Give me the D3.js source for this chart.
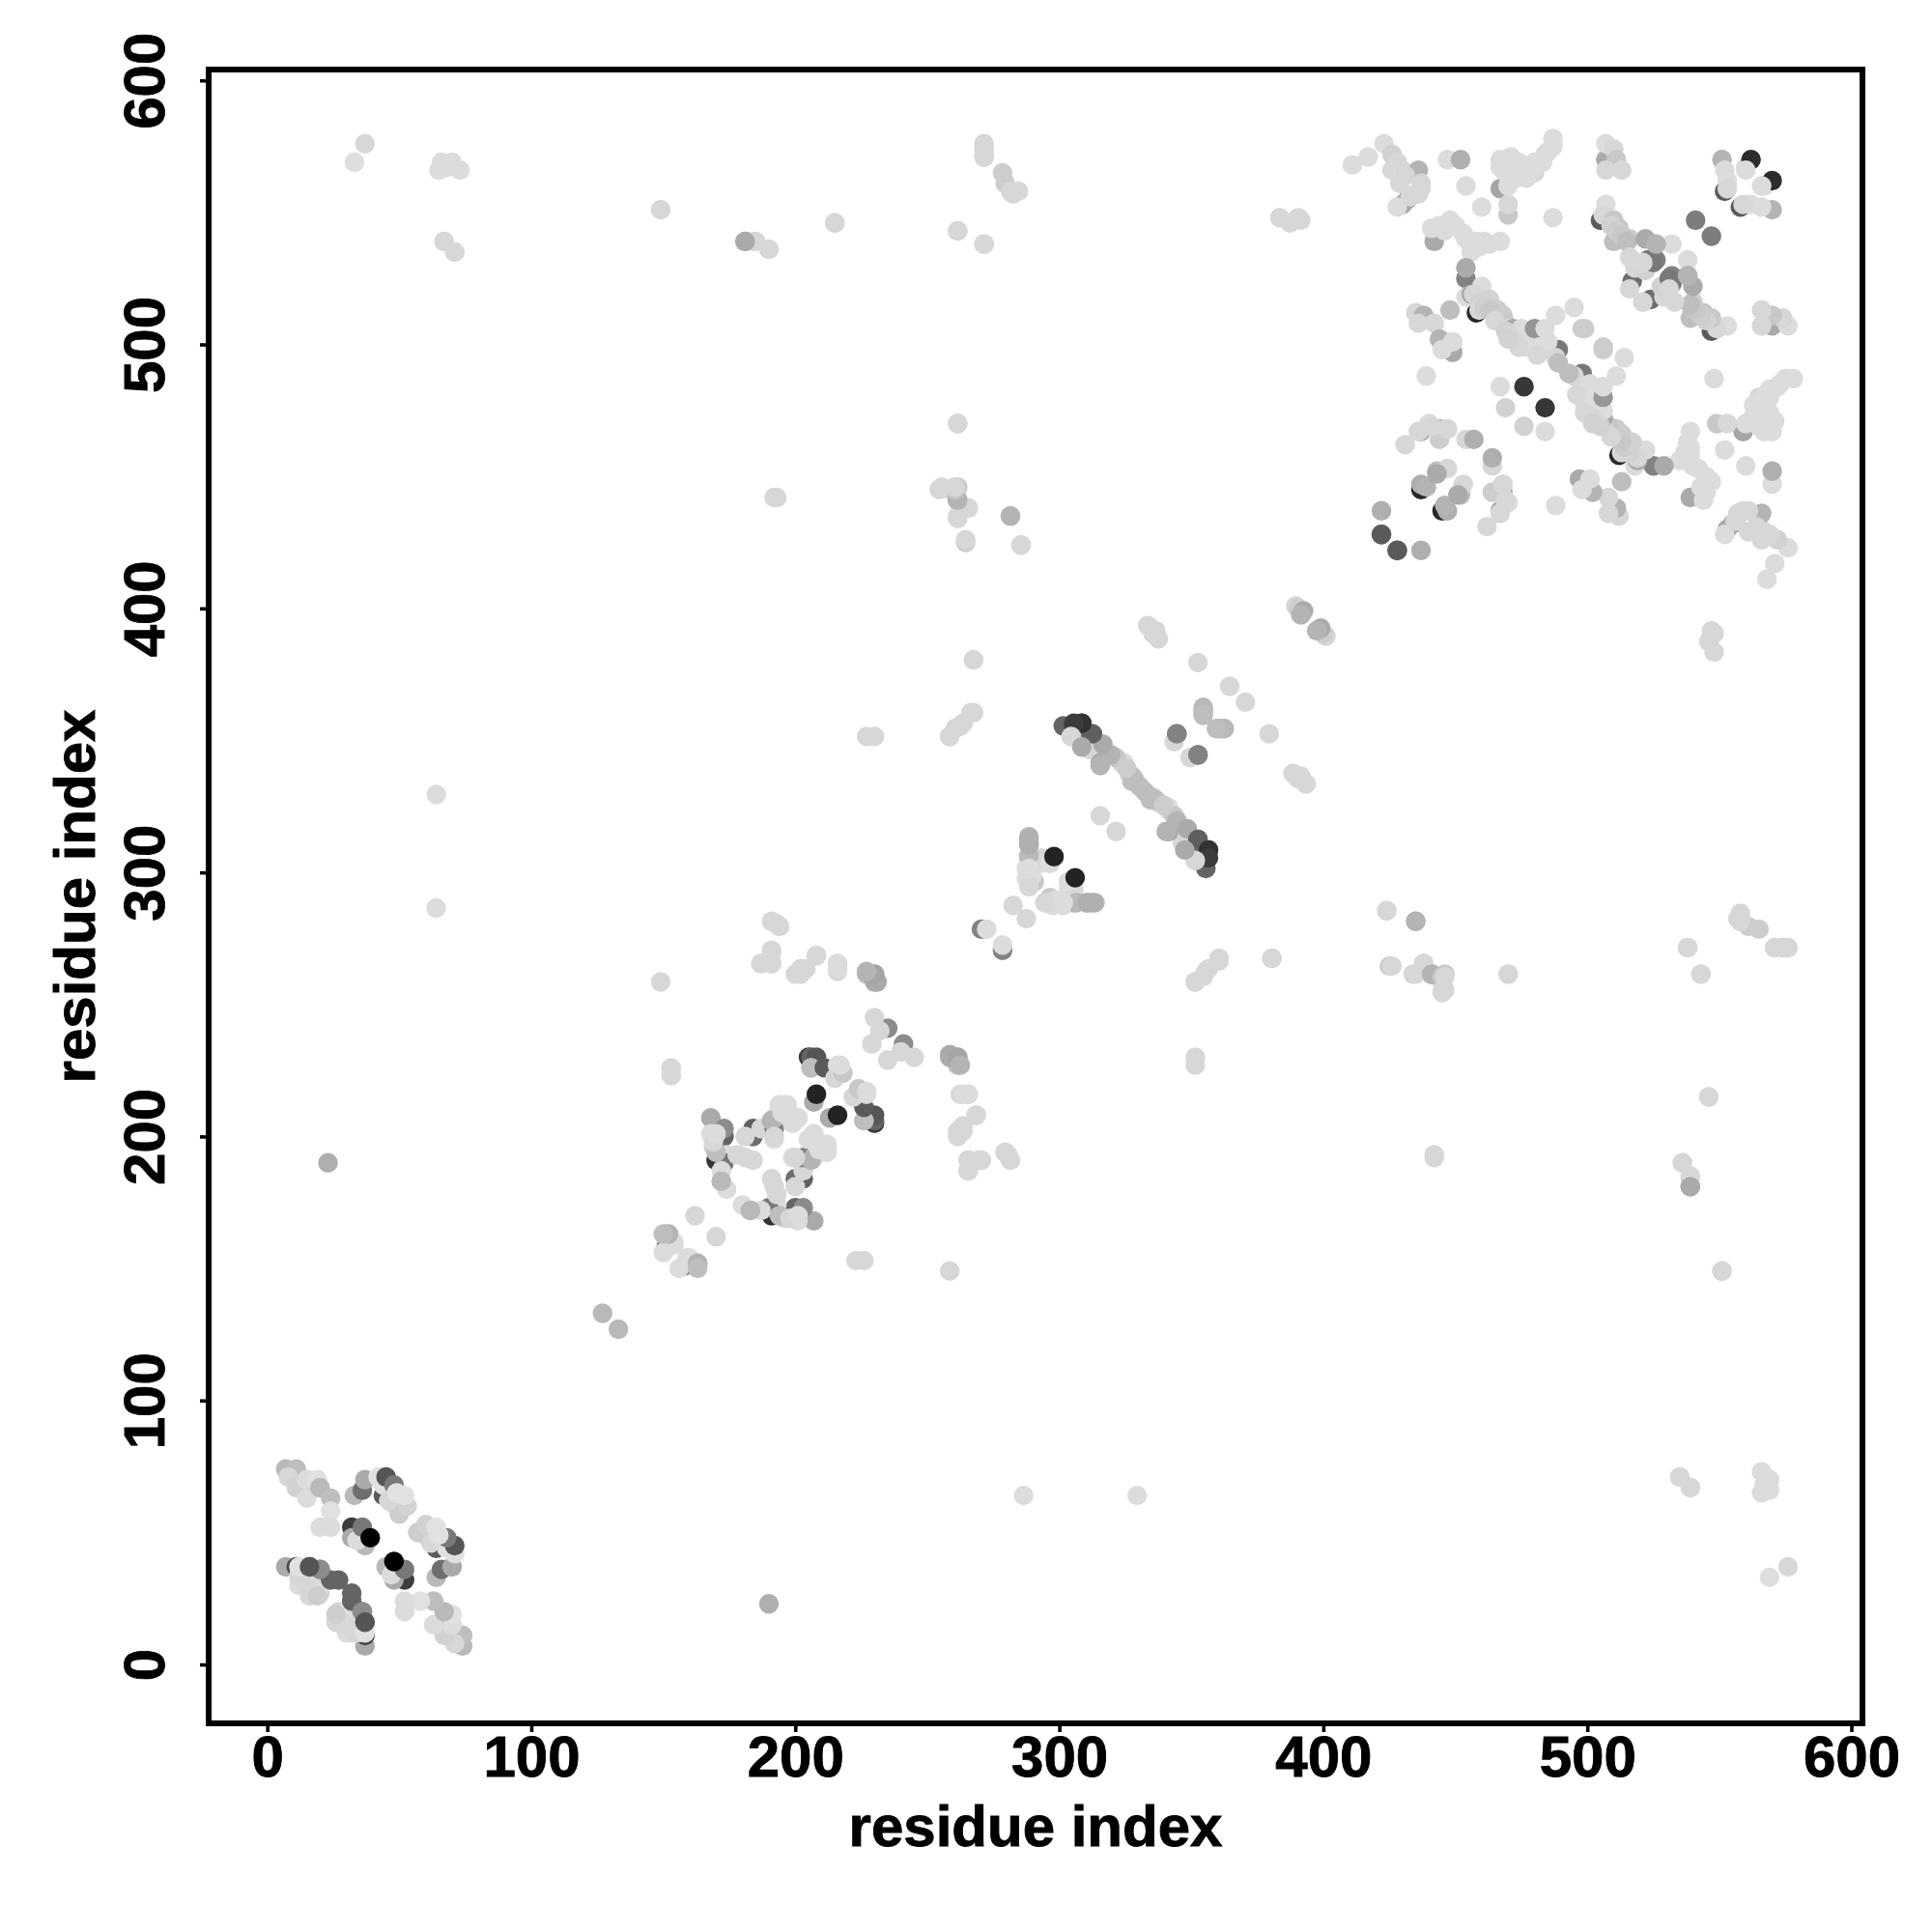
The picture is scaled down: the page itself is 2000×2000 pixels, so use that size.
<!DOCTYPE html>
<html><head><meta charset="utf-8">
<script src="https://cdn.jsdelivr.net/npm/d3@7"></script>
<style>html,body{margin:0;padding:0;background:#fff}svg{display:block}</style>
</head><body><div id="chart"></div>
<script>
// each row: residue i, residue j, grey level of the contact (drawn at i,j and j,i)
const hiddenDark = [[16,66,100],[18,32,0],[20,31,0],[44,64,90],[170,191,50],[308.5,350.5,100],[458,512,40],[437,445,40],[480,504,60],[505,547,90],[552,558,90],[32,52,60]];
const nTermArms = [[7,74,185],[11,74,190],[8,71,215],[11,67,210],[15,63,220],[15,70,220],[19,70,225],[20,67,185],[24,63,190],[24,58,225],[20,52,220],[24,52,220],
 [33,64,185],[36,66,110],[37,70,170],[42,71,225],[44,68,225],[45,71,85],[48,68,120],[48,61,200],[50,57,205],[46,62,215],[53,60,210],[49,65,225],[52,64,225]];
const nTermInner = [[32,48,170],[37,45,185],[34,47,220],[36,52,120],[39,48,0]];
const nTermHairpin = [[7,37,170],[11,37,70],[12,34,215],[12,30,220],[16,26,215],[20,27,215],[20,30,225],[19,33,220],[16,37,95],[20,36,130],[24,32,100],[27,32,100],
 [15,29,215],[12,33,215],[19,26,205],[12,37,225],[20,36,140],[16,37,85]];
const longRangeLow = [[23,190,175],[33,569,222],[37,576,215],[66,569,220],[70,569,220],[65,566,220],[68,567,220],[73,566,220],[67,539,220],[71,535,220],[64,329.5,220],[64,286.5,220],
 [149,551,220],[181,539,170],[184,539,220],[190,536,220],[215,546,220],[193,442,215],[271.5,574,210],[271.5,571,200],[278.5,565,205],[279.5,561,205],[281.5,558,215],[282.5,557,215],[284.5,558,215],[261.5,543,220],[271.5,538,215],
 [261.5,470,215],[254.5,445,215],[258.5,445,215],[261.5,441,100],[261.5,446,200],[265.5,438,220],[261.5,434,215],[264.5,425,205],[281.5,435,190],[285.5,424,215],
 [383.5,548,215],[387.5,546,215],[390.5,548,215],[391.5,547,215],[127,133,185]];
const midRange = [[267.5,380.5,215],[258.5,351.5,215],[260.5,354.5,215],[263.5,356.5,215],[267.5,360.5,215],[227,351.5,215],[230,351.5,215],[193,280.5,215],[194,279.5,215],[187,265.5,210],[191,269.5,215],[191,265.5,215],[202,263.5,215],[204,263.5,215],[208,268.5,215],[216,265.5,215],[216,262.5,215],
 [227,261.5,190],[230,261.5,190],[231,258.5,170],[149,258.5,215],[153,226,215],[153,223,215],[285.5,424,215],[281.5,435,180],[264.5,426,215],[261.5,435,215],[265.5,438,215],[261.5,441,180],[260.5,445,200],[260.5,446,215],[255.5,446,215],[261.5,470,215],
 [271.5,538,215],[261.5,543,215],[271.5,571,215],[271.5,576,215],[215,546,215],[192,442,215],[190,536,215],[185,539,215],[181,539,170],[149,551,215],[71,535,215],[67,539,215]];
const cluster150 = [[151,158,120],[151,163,190],[152,161,200],[154,160,225],[150,156,220],[154,159,220],[152,163,180],[163,150,190],[162,170,215]];
const cluster170 = [[168,207,170],[168,201,220],[169,196,210],[173,200,100],[173,203,140],[174,193,220],[173,190,120],[172,187,220],[172,183,190],[174,180,220],[178,193,215],[181,192,215],[184,191,215],[184,200,110],[184,203,95],[181,200,215],[187,203,215],[192,203,130],[192,199,220],[192,207,215],[194,212,220],[197,212,220],[201,207,220],[199,205,215],[191,206,180],[201,207,220],[199,205,220],[195,209,220],[196,212,220],[194,212,220],[192,200,215],[170,194,190],[169,198,215],[170,201,220],[172,183,185]];
const cluster205 = [[207,213,170],[208,216,35],[205,230,60],[206,230,100],[208,230,85],[206,226,170],[206,226,190],[211,226,90],[216,227,220],[218,224,195],[215,222,215],[218,224,200],[217,227,220],[235,241,140],[229,235,215],[230,245,215],[232,240,215],
 [230,258.5,170],[230,261.5,165],[227,262.5,180],[216,263.5,220],[216,265.5,220],[202,261.5,215],[200,261.5,215],[208,268.5,215],[191,265.5,215],[191,270.5,215],[187,265.5,215],[194,279.5,215],[191,281.5,215]];
const cluster290 = [[288.5,313.5,180],[288.5,310.5,170],[288.5,305.5,175],[290.5,305.5,190],[293.5,303.5,220],[296.5,303.5,215],[287.5,301.5,220],[287.5,297.5,220],[290.5,296.5,200],[289.5,298.5,220],[293.5,305.5,215],[288.5,306.5,185],[288.5,310.5,175],[288.5,312.5,175],[288.5,296.5,220],[288.5,294.5,215],[288.5,301.5,220],[296.5,303.5,220],[298,306,35],[282.5,287.5,215],[270.5,278.5,130],[272.5,278.5,220],[315.5,321.5,215]];
const strip300 = [[308.5,348.5,110],[304.5,351.5,220],[301.5,355.5,100],[305.5,355.5,75],[308.5,356.5,75],[312.5,352.5,100],[315.5,348.5,170],[311.5,346.5,215],[315.5,341.5,170],[319.5,344.5,190],[323.5,341.5,215],[326.5,337.5,210],[328.5,335.5,210],[327.5,334.5,190],[328.5,334.5,190],[327.5,336.5,190],[324.5,341.5,220],[321.5,343.5,200],[325.5,339.5,205],[330.5,332.5,190],[319.5,344.5,180],[316.5,348.5,170],[312.5,352.5,95],[308.5,356.5,50],[305.5,356.5,60],[304.5,351.5,215],[308.5,347.5,170],[315.5,340.5,180]];
const side350 = [[352.5,379.5,215],[364.5,370.5,215],[354.5,362.5,185],[354.5,360.5,190],[354.5,361.5,185],[354.5,359.5,190],[344.5,352.5,125],[343.5,349.5,215],[344.5,352.5,130],[333.5,393.5,215],[334.5,392.5,215],[335.5,390.5,215],[337.5,388.5,215],[336.5,391.5,215],[389.5,401,215],[390.5,400,205],[392.5,399,170],[391.5,397.5,180],[258.5,351.5,215],[262.5,355.5,215],[266.5,360.5,215],[267.5,380.5,215]];
const cTermRows = [[411,568,220],[417,571,220],[423,576,220],[426,572,210],[426,566,215],[430,566,220],[436,566,180],[430,553,170],[432,555,170],[428,552,220],[435,557,215],[437,559,215],[428,569,215],[429,561,215],[431,564,215],[436,557,215],[437,561,215],[433,556,215],[447,570,220],[452,570,175],[454,560,220],[460,552,220],[467,559,165],[467,570,220],[471,571,220],[470,560,220],[470,549,200],[470,553,215],[480,569,220],[484,572,220],[487,578,220],[487,575,220],[480,565,215],[475,566,220],[471,566,220],[477,563,220],[474,569,220],[477,567,220],[480,567,220],[483,569,220],[485,573,220],[473,563,220],[469,565,220],[467,567,220],[487,548,220],
 [507,570,170],[507,576,220],[510,574,215],[511,570,200],[513,566,215],[507,566,215],[551,570,180],[560,567,220],[562,570,45],[552,566,220],[553,562,220],[553,559,215],[560,566,220],
 [541,547,125],[532,538,220]];
const cTermArc = [[507,553,220],[506,549,215],[510,547,200],[512,544,200],[516,540,205],[510,539,190],[509,545,210],[511,543,205],[513,541,200],[515,539,190],[522,540,170],[526,538,180],[516,533,215],[523,532,120],[526,532,130],[517,524,110],[516,521,215],[518,529,215],[522,528,210],[525,531,120],[521,531,215],[526,538,180],
 [442,539,170],[441,544,220],[448,547,220],[453,542,220],[458,539,220],[461,539,220],[467,539,220],[456,535,220],[446,543,220],[444,545,220],[450,545,220],[454,540,220],[457,536,220],[459,537,220],[463,538,220],
 [454,525,130],[454,529,170],[454,518,220],[460,522,220],[456,519,170],[457,519,215],[459,516,210],[459,513,215],[461,514,205],[463,517,210],[466,513,205],[468,511,205],[463,513,200],[466,510,205],[469,508,200],[472,505,205],[475,503,215],[478,501,215],[470,506,215],[472,506,170],[475,506,220],[480,506,150],[484,506,220],[488,511,220],[495,514,220],[498,506,205],[465,509,215],[469,505,210],[473,501,215],[471,503,215],[477,499,220],[482,499,220],[489,498,120],[485,501,220],[488,495,215],[489,493,190],[481,496,215],[474,499,215],[470,502,210],[499,506,205]];
const cTermBlocks = [[439,488,220],[467,484,220],[476,484,55],[469,476,210],
 [435,512,215],[438,511,180],[448,513,190],[442,508,215],[436,508,215],[444,502,180],[449,497,170],[449,501,220],[445,498,220],
 [431,462,215],[437,467,170],[440,470,220],[444,468,180],[447,468,215],[454,464,215],[457,464,175],[437,447,175],[439,446,180],[443,452,190],[447,453,215],[443,451,170],[444,464,205],[436,467,215],[441,469,215],[447,468,215],
 [422,428,100],[422,437,175],[428,422,90]];
const allContacts = [hiddenDark,nTermArms,nTermInner,nTermHairpin,longRangeLow,midRange,cluster150,cluster170,cluster205,cluster290,strip300,side350,cTermRows,cTermArc,cTermBlocks].flat();
const xTicks = [0,100,200,300,400,500,600];
const yTicks = [0,100,200,300,400,500,600];
const axisTitle = "residue index";

const svg = d3.select("#chart").append("svg").attr("width",2000).attr("height",2000);
const FONT = "'Liberation Sans',Arial,sans-serif";
const x = d3.scaleLinear().domain([-22.2,604.2]).range([216,1928]);
const y = d3.scaleLinear().domain([-22.3,604.1]).range([1784,72]);

const marks = svg.append("g");
allContacts.forEach(([i,j,g]) => {
  [[i,j],[j,i]].forEach(([a,b]) => {
    marks.append("circle").attr("cx",x(a)).attr("cy",y(b)).attr("r",10.2)
      .attr("fill",d3.rgb(g,g,g).formatHex());
  });
});

svg.append("rect").attr("x",x.range()[0]).attr("y",y.range()[1])
  .attr("width",x.range()[1]-x.range()[0]).attr("height",y.range()[0]-y.range()[1])
  .attr("fill","none").attr("stroke","#000").attr("stroke-width",6);

const gx = svg.append("g").attr("transform",`translate(0,${y.range()[0]})`)
  .call(d3.axisBottom(x).tickValues(xTicks).tickSize(9).tickFormat(d3.format("d")));
const gy = svg.append("g").attr("transform",`translate(${x.range()[0]},0)`)
  .call(d3.axisLeft(y).tickValues(yTicks).tickSize(9).tickFormat(d3.format("d")));
function boldText(sel){
  sel.attr("fill","#000").attr("stroke","#000").attr("stroke-width",0.9)
    .style("font-family",FONT).style("font-weight","bold").style("font-size","60px");
}
[gx,gy].forEach(g=>{
  g.select(".domain").remove();
  g.selectAll("line").attr("stroke","#000").attr("stroke-width",3.6);
  boldText(g.selectAll("text"));
});
gx.selectAll("text").attr("y",null).attr("dy",null).attr("transform",null).attr("text-anchor","middle").attr("y",54.5);
gy.selectAll("text").attr("x",null).attr("dy",null).attr("text-anchor","middle").attr("transform","translate(-46,0) rotate(-90)");

boldText(svg.append("text").attr("x",1072).attr("y",1911).attr("text-anchor","middle").text(axisTitle));
boldText(svg.append("text").attr("transform","translate(98,928) rotate(-90)").attr("text-anchor","middle").text(axisTitle));
</script></body></html>
